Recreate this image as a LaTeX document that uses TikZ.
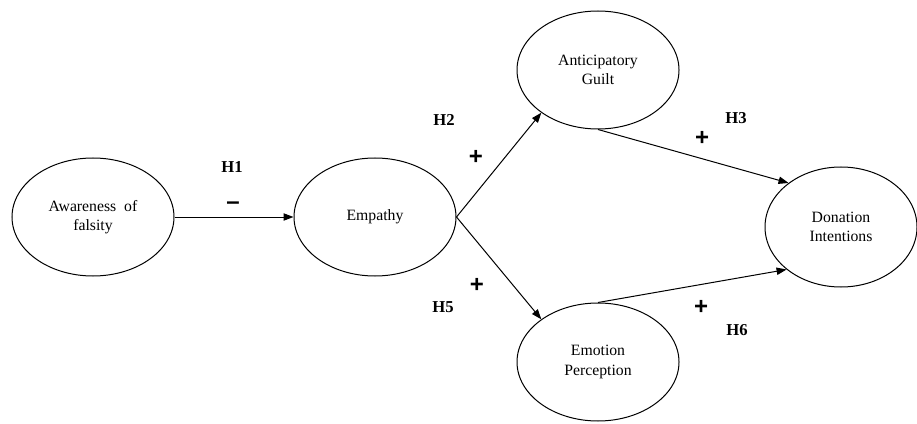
\documentclass[tikz,border=0pt]{standalone}
\usepackage{fontspec}
\setmainfont{Liberation Serif}
\newfontfamily\signfont{Liberation Sans}
\usetikzlibrary{shapes.geometric}
\usetikzlibrary{arrows.meta}

\begin{document}
\begin{tikzpicture}[x=0.75pt,y=-0.75pt,
    construct/.style={draw,ellipse,line width=0.75pt,minimum width=121.5pt,minimum height=88.5pt,inner sep=0pt,align=center,font=\fontsize{11.8}{14.6}\selectfont},
    link/.style={draw,line width=0.75pt,-{Triangle[length=7.5pt,width=5.5pt]}},
    hyp/.style={inner sep=0pt,font=\fontsize{12.5}{14}\selectfont\bfseries},
    sign/.style={inner sep=0pt,font=\signfont\fontsize{18}{18}\selectfont\bfseries}]
    \useasboundingbox (0,0) rectangle (917,424);
    % constructs
    \node[construct] (falsity) at (93,217) {Awareness\ \ of\\falsity};
    \node[construct] (empathy) at (375,217) {Empathy};
    \node[construct] (guilt) at (598,70) {Anticipatory\\Guilt};
    \node[construct] (perception) at (598,362) {Emotion\\Perception};
    \node[construct,minimum width=114pt,minimum height=90pt] (donation) at (841,227) {Donation\\Intentions};
    % paths
    \draw[link] (falsity.east) -- (empathy.west);
    \draw[link] (empathy.east) -- (guilt.217);
    \draw[link] (empathy.east) -- (perception.143);
    \draw[link] (guilt.south) -- (donation.140);
    \draw[link] (perception.north) -- (donation.218);
    % hypotheses
    \node[hyp] (h1) at (232,167) {H1};
    \node[hyp] (h2) at (444,120) {H2};
    \node[hyp] (h3) at (736,118) {H3};
    \node[hyp] (h5) at (443,307) {H5};
    \node[hyp] (h6) at (737,330) {H6};
    \node[sign] (s1) at (233,206) {–};
    \node[sign] (s2) at (476,157) {+};
    \node[sign] (s3) at (702,138) {+};
    \node[sign] (s5) at (477,285) {+};
    \node[sign] (s6) at (701,307) {+};
\end{tikzpicture}
\end{document}
